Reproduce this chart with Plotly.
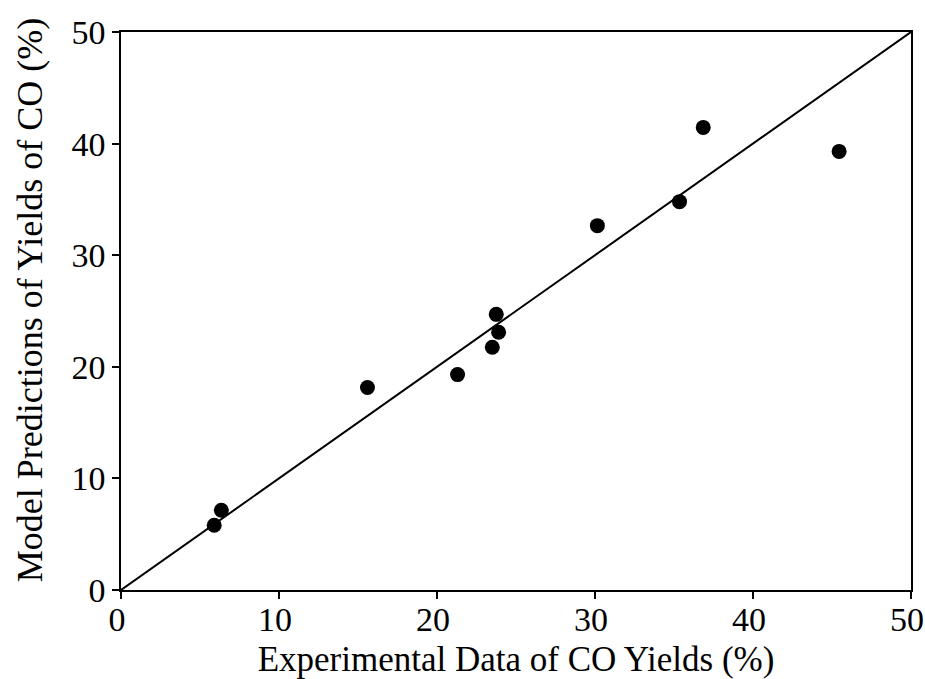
import plotly.graph_objects as go

exp_co = [5.9, 6.35, 15.6, 21.3, 23.5, 23.75, 23.9, 30.15, 35.35, 36.85, 45.45]
model_co = [5.8, 7.15, 18.15, 19.3, 21.75, 24.7, 23.1, 32.65, 34.8, 41.45, 39.3]
parity_x = [0, 50]
parity_y = [0, 50]
tick_vals = [0, 10, 20, 30, 40, 50]
x_title = "Experimental Data of CO Yields (%)"
y_title = "Model Predictions of Yields of CO (%)"

FONT = "Liberation Serif, Times New Roman, serif"
TICK_FS = 34
TITLE_FS = 35

fig = go.Figure()
fig.add_trace(go.Scatter(x=parity_x, y=parity_y, mode="lines",
                         line=dict(color="black", width=2), showlegend=False,
                         cliponaxis=False))
fig.add_trace(go.Scatter(x=exp_co, y=model_co, mode="markers",
                         marker=dict(color="black", size=15), showlegend=False))

axis_common = dict(
    range=[0, 50], tickvals=tick_vals, showgrid=False, zeroline=False,
    showline=True, linecolor="black", linewidth=1.5, mirror=True,
    ticks="outside", ticklen=7, tickwidth=1.5, tickcolor="black",
    tickfont=dict(family=FONT, size=TICK_FS, color="black"),
    ticklabeloverflow="allow",
)

fig.update_xaxes(**axis_common, ticklabelstandoff=-9, ticklabelshift=-4,
                 title=dict(text=x_title,
                            font=dict(family=FONT, size=TITLE_FS, color="black"),
                            standoff=10))
fig.update_yaxes(**axis_common)

fig.add_annotation(text=y_title, textangle=-90, showarrow=False,
                   xref="paper", yref="paper", x=-0.1152, y=0.521,
                   xanchor="center", yanchor="middle",
                   font=dict(family=FONT, size=36, color="black"))

fig.update_layout(
    width=925, height=679,
    margin=dict(l=121, r=14, t=32, b=89, autoexpand=False),
    paper_bgcolor="white", plot_bgcolor="white",
)

fig.write_html("out.html")
